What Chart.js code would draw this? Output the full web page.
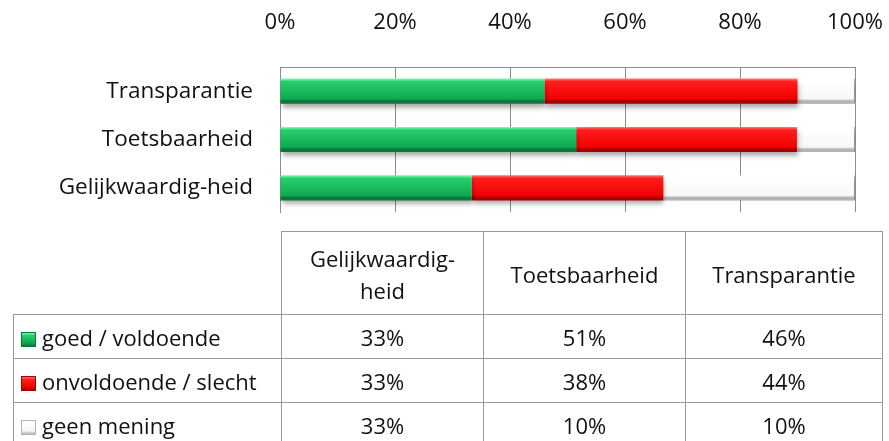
<!DOCTYPE html>
<html>
<head>
<meta charset="utf-8">
<script src="https://cdn.jsdelivr.net/npm/chart.js@4.4.1/dist/chart.umd.min.js"></script>
<style>
  html, body { margin: 0; padding: 0; background: #fff; }
  #wrap { position: relative; width: 889px; height: 441px; overflow: hidden; }
  #chart { position: absolute; left: 0; top: 0; }
  #tbl {
    position: absolute; left: 13px; top: 231px;
    border-collapse: collapse; table-layout: fixed;
    font-family: 'Open Sans', sans-serif; font-size: 22px; color: #111;
  }
  #tbl td { border: 1px solid #9a9a9a; text-align: center; padding: 0; }
  #tbl td.blank { border: none; border-right: 1px solid #9a9a9a; border-bottom: 1px solid #9a9a9a; }
  #tbl tr.head td { height: 80px; line-height: 32px; padding-top: 2px; }
  #tbl tr.row td { height: 43px; }
  #tbl td.lbl { text-align: left; white-space: nowrap; padding-left: 7px; }
  .key { display: inline-block; width: 15px; height: 15px; margin-right: 6px; vertical-align: -1px; box-sizing: border-box; }
</style>
</head>
<body>
<div id="wrap">
  <canvas id="chart" width="889" height="441"></canvas>
  <table id="tbl"></table>
</div>
<script>
// categories in table order (Excel draws the first one at the bottom)
const categories = ['Gelijkwaardig-heid', 'Toetsbaarheid', 'Transparantie'];
const headerLabels = ['Gelijkwaardig-<br>heid', 'Toetsbaarheid', 'Transparantie'];
const seriesNames = ['goed / voldoende', 'onvoldoende / slecht', 'geen mening'];
const goed = [33, 51, 46];
const onvoldoende = [33, 38, 44];
const geenMening = [33, 10, 10];
const xTicks = [0, 20, 40, 60, 80, 100];

const seriesValues = [goed, onvoldoende, geenMening];
// bevel colours: top edge, body light, body dark, bottom edge
const BEVELS = [
  ['#7af7b2', '#27cf6c', '#0fa952', '#0a7a3a'],
  ['#ff7070', '#ff1e1e', '#f20000', '#a60000'],
  ['#ffffff', '#ffffff', '#f7f7f7', '#b5b5b5'],
];

// 100% stacked: share of each answer per category
const totals = categories.map((_, i) => goed[i] + onvoldoende[i] + geenMening[i]);
const shares = seriesValues.map(s => s.map((v, i) => v / totals[i] * 100));

function bevelFill(idx) {
  return (ctx) => {
    const chart = ctx.chart;
    const y = chart.scales.y;
    if (!chart.chartArea || !y || ctx.dataIndex === undefined) return BEVELS[idx][1];
    const yc = y.getPixelForValue(ctx.dataIndex);
    const half = y.height / categories.length * 0.25;
    const g = chart.ctx.createLinearGradient(0, yc - half, 0, yc + half);
    const c = BEVELS[idx];
    g.addColorStop(0, c[0]);
    g.addColorStop(0.1, c[1]);
    g.addColorStop(0.82, c[2]);
    g.addColorStop(0.9, c[3]);
    g.addColorStop(1, c[3]);
    return g;
  };
}

const shadowPlugin = {
  id: 'barShadow',
  beforeDatasetsDraw(chart) {
    const c = chart.ctx;
    c.save();
    c.shadowColor = 'rgba(0,0,0,0.35)';
    c.shadowBlur = 5;
    c.shadowOffsetY = 4;
    c.shadowOffsetX = 1;
  },
  afterDatasetsDraw(chart) {
    chart.ctx.restore();
  }
};

new Chart(document.getElementById('chart').getContext('2d'), {
  type: 'bar',
  data: {
    labels: categories,
    datasets: seriesNames.map((name, i) => ({
      label: name,
      data: shares[i],
      backgroundColor: bevelFill(i),
      borderColor: '#b8b8b8',
      borderWidth: i === 2 ? { right: 1 } : 0,
      borderSkipped: false,
      categoryPercentage: 1,
      barPercentage: 0.52,
    }))
  },
  options: {
    indexAxis: 'y',
    responsive: false,
    animation: false,
    layout: { padding: { left: 0, top: 0, right: 34, bottom: 229 } },
    plugins: { legend: { display: false }, tooltip: { enabled: false } },
    scales: {
      x: {
        position: 'top',
        stacked: true,
        min: 0, max: 100,
        afterBuildTicks: (scale) => { scale.ticks = xTicks.map(v => ({ value: v })); },
        afterFit: (scale) => { scale.height = 67; scale.paddingLeft = 0; scale.paddingRight = 0; },
        ticks: {
          padding: 31,
          color: '#111',
          font: { family: 'Open Sans', size: 22 },
          callback: (v) => v + '%'
        },
        grid: { color: '#8c8c8c', drawTicks: false },
        border: { display: true, color: '#8c8c8c' }
      },
      y: {
        stacked: true,
        reverse: true,
        afterFit: (scale) => { scale.width = 280; },
        ticks: {
          padding: 27,
          color: '#111',
          font: { family: 'Open Sans', size: 22.5 }
        },
        grid: { display: false, drawTicks: false },
        border: { display: true, color: '#8c8c8c' }
      }
    }
  },
  plugins: [shadowPlugin]
});

// data table under the chart
const tbl = document.getElementById('tbl');
let html = '<colgroup><col style="width:268px"><col style="width:202px"><col style="width:202px"><col style="width:197px"></colgroup>';
html += '<tr class="head"><td class="blank"></td>' + headerLabels.map(h => '<td>' + h + '</td>').join('') + '</tr>';
seriesNames.forEach((name, i) => {
  const b = BEVELS[i];
  const keyStyle = 'background:linear-gradient(' + b[0] + ',' + b[1] + ' 20%,' + b[2] + ' 75%,' + b[3] + ');border:1px solid ' + b[3];
  html += '<tr class="row"><td class="lbl"><span class="key" style="' + keyStyle + '"></span>' + name + '</td>' +
    seriesValues[i].map(v => '<td>' + v + '%</td>').join('') + '</tr>';
});
tbl.innerHTML = html;
</script>
</body>
</html>
